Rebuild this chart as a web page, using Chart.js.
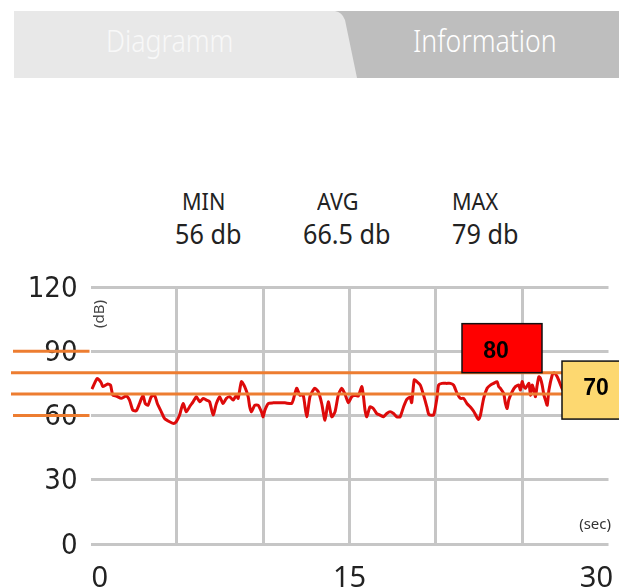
<!DOCTYPE html>
<html>
<head>
<meta charset="utf-8">
<script src="https://cdn.jsdelivr.net/npm/chart.js@4"></script>
<style>
  html, body { margin: 0; padding: 0; background: #fff; }
  #page { position: relative; width: 619px; height: 587px; overflow: hidden; font-family: "Noto Sans", "Open Sans", sans-serif; }
  .txt { position: absolute; white-space: nowrap; line-height: 1; color: #222; transform-origin: 0 0; }
  .tab { font-size: 31px; font-weight: 300; top: 25px; transform: scaleX(0.86); }
  .lbl { font-size: 24px; top: 189px; transform: scaleX(0.9); }
  .val { font-size: 28px; top: 219px; transform: scaleX(0.9); }
  svg, canvas { position: absolute; left: 0; top: 0; }
</style>
</head>
<body>
<div id="page">
  <svg width="619" height="80">
    <rect x="14" y="11" width="605" height="67" fill="#e8e8e8"/>
    <path d="M335 11 Q342 12 345 20 L357 78 L619 78 L619 11 Z" fill="#bebebe"/>
  </svg>
  <div class="txt tab" style="left:106px;color:#f8f8f8">Diagramm</div>
  <div class="txt tab" style="left:413px;color:#fff">Information</div>

  <div class="txt lbl" style="left:182px">MIN</div>
  <div class="txt lbl" style="left:317px">AVG</div>
  <div class="txt lbl" style="left:452px">MAX</div>
  <div class="txt val" style="left:175px">56 db</div>
  <div class="txt val" style="left:303px">66.5 db</div>
  <div class="txt val" style="left:452px">79 db</div>

  <canvas id="chart" width="619" height="587"></canvas>
</div>
<script>
// sound level readings (sec / dB)
const timeSec = [
  0.08, 0.39, 0.62, 0.71, 1.0, 1.16, 1.29, 1.49, 1.78, 2.07,
  2.26, 2.45, 2.65, 2.84, 3.04, 3.17, 3.33, 3.52, 3.71, 3.87,
  4.1, 4.29, 4.58, 4.83, 4.97, 5.16, 5.36, 5.55, 5.74, 5.94,
  6.13, 6.33, 6.52, 6.71, 6.9, 7.1, 7.29, 7.48, 7.67, 7.87,
  8.06, 8.26, 8.45, 8.55, 8.74, 8.93, 9.13, 9.22, 9.32, 9.51,
  9.71, 9.9, 10.0, 10.1, 10.29, 10.58, 10.87, 11.26, 11.65, 11.74,
  11.94, 12.13, 12.32, 12.52, 12.71, 12.9, 13.0, 13.19, 13.39, 13.58,
  13.77, 13.97, 14.16, 14.35, 14.55, 14.74, 14.93, 15.13, 15.32, 15.51,
  15.71, 15.8, 15.9, 16.0, 16.19, 16.38, 16.58, 16.77, 16.97, 17.16,
  17.35, 17.55, 17.74, 17.93, 18.13, 18.32, 18.51, 18.6, 18.75, 18.9,
  19.1, 19.29, 19.48, 19.6, 19.87, 20.06, 20.16, 20.35, 20.64, 20.84,
  21.03, 21.23, 21.42, 21.61, 21.81, 22.0, 22.19, 22.39, 22.48, 22.58,
  22.77, 22.97, 23.16, 23.35, 23.55, 23.64, 23.74, 23.93, 24.03, 24.13,
  24.22, 24.42, 24.61, 24.8, 24.9, 25.0, 25.1, 25.19, 25.39, 25.48,
  25.58, 25.68, 25.77, 25.87, 25.97, 26.06, 26.16, 26.26, 26.35, 26.45,
  26.55, 26.74, 26.84, 27.03, 27.23, 27.36, 27.6
];
const levelDb = [
  72.3, 77.3, 75.3, 73.5, 74.7, 74.2, 69.5, 69.1, 68, 69.1,
  67.2, 62.5, 62.2, 65.6, 69.5, 65.6, 64.8, 68.8, 69.5, 65.6,
  61.7, 58.6, 57.1, 56.3, 57.1, 60.2, 65.6, 61.7, 64.1, 66.4,
  68.8, 66.4, 68, 67.2, 66.4, 60.2, 65.6, 68.8, 65.6, 68,
  68.8, 67.2, 69.5, 68, 75.8, 73.5, 68.8, 64.1, 61.7, 64.8,
  64.8, 61.7, 59.4, 62.5, 65.6, 65.9, 65.9, 65.9, 65.6, 67.2,
  72.7, 69.5, 69.5, 59.4, 68.8, 71.9, 72.7, 71.1, 65.6, 57.8,
  66.4, 59.4, 61.7, 69.5, 72.7, 70, 66, 68.8, 69.5, 69.1,
  73.5, 69.5, 62.5, 59.4, 64.1, 63.3, 60.9, 60.2, 59.4, 60.9,
  61.7, 60.9, 59.4, 59.4, 64, 67.5, 68.5, 66, 76.6, 75.8,
  74.2, 69.5, 64, 60.5, 60.2, 68, 74.2, 75, 75, 75,
  74.2, 70.3, 68, 68, 65.5, 64, 62, 59, 58.2, 60,
  68, 72.7, 74.2, 75, 75.8, 73.5, 72.7, 70.3, 65.6, 63.3,
  67.2, 71.1, 73.5, 74.2, 71.9, 75.8, 73.5, 72.7, 75, 69.5,
  74.2, 71.9, 68.8, 74.2, 78.1, 77.3, 74.2, 69.5, 67.2, 64.8,
  71.9, 78.9, 80, 78.1, 74.2, 71.9, 73
];

const xTickLabels = [0, 15, 30];
const limitLines = [80, 70];      // full width lines
const markLines = [90, 60];       // short lines over the axis labels
const limitBoxes = ['80', '70'];

const orange = '#ed7d31';
const gridColor = '#c6c6c6';

const overlay = {
  id: 'overlay',
  afterDatasetsDraw(chart) {
    const { ctx, chartArea, scales: { x, y } } = chart;
    ctx.save();

    // orange limit lines
    ctx.strokeStyle = orange;
    ctx.lineWidth = 3;
    limitLines.forEach(v => {
      const py = y.getPixelForValue(v);
      ctx.beginPath(); ctx.moveTo(11, py); ctx.lineTo(chart.width, py); ctx.stroke();
    });
    markLines.forEach(v => {
      const py = y.getPixelForValue(v);
      ctx.beginPath(); ctx.moveTo(13, py); ctx.lineTo(chartArea.left - 1, py); ctx.stroke();
    });

    // units
    ctx.fillStyle = '#444';
    ctx.font = '15px "Noto Sans"';
    ctx.textAlign = 'center';
    ctx.textBaseline = 'middle';
    ctx.save();
    ctx.translate(chartArea.left + 9, chartArea.top + 27);
    ctx.rotate(-Math.PI / 2);
    ctx.fillText('(dB)', 0, 0);
    ctx.restore();
    ctx.fillStyle = '#333';
    ctx.font = '15px "Noto Sans"';
    ctx.textAlign = 'right';
    ctx.fillText('(sec)', chartArea.right + 2.5, chartArea.bottom - 19);

    // x tick labels, kept inside the page
    ctx.fillStyle = '#222';
    ctx.font = '29px "Noto Sans"';
    ctx.textAlign = 'left';
    ctx.textBaseline = 'alphabetic';
    xTickLabels.forEach(v => {
      const txt = String(v);
      const w = ctx.measureText(txt).width;
      let left = x.getPixelForValue(v) - w / 2;
      left = Math.max(chartArea.left + 1, Math.min(left, chart.width - 6 - w));
      ctx.fillText(txt, left, chartArea.bottom + 43);
    });

    // limit boxes
    ctx.lineWidth = 1.5;
    ctx.strokeStyle = '#111';
    let py = y.getPixelForValue(limitLines[0]);
    ctx.fillStyle = '#ff0000';
    ctx.fillRect(462, py - 49, 80, 49);
    ctx.strokeRect(462, py - 49, 80, 49);
    py = y.getPixelForValue(limitLines[1]);
    ctx.fillStyle = '#fdd870';
    ctx.fillRect(562, py - 33, 70, 58);
    ctx.strokeRect(562, py - 33, 70, 58);

    ctx.fillStyle = '#000';
    ctx.font = 'bold 23px "Liberation Sans"';
    ctx.textAlign = 'center';
    ctx.textBaseline = 'middle';
    ctx.fillText(limitBoxes[0], 496, y.getPixelForValue(limitLines[0]) - 21);
    ctx.fillText(limitBoxes[1], 596, y.getPixelForValue(limitLines[1]) - 5);

    ctx.restore();
  }
};

new Chart(document.getElementById('chart'), {
  type: 'line',
  data: {
    datasets: [{
      data: timeSec.map((t, i) => ({ x: t, y: levelDb[i] })),
      borderColor: '#dd0a0a',
      borderWidth: 3,
      pointRadius: 0,
      tension: 0.2,
      fill: false,
    }],
  },
  options: {
    responsive: false,
    animation: false,
    devicePixelRatio: 1,
    layout: { padding: { top: 287, right: 10.5, left: 0, bottom: 0 } },
    plugins: { legend: { display: false }, tooltip: { enabled: false } },
    scales: {
      x: {
        type: 'linear',
        min: 0,
        max: 30,
        ticks: { stepSize: 5, display: false },
        grid: {
          lineWidth: 3,
          drawTicks: false,
          color: (c) => (c.tick && (c.tick.value === 0 || c.tick.value === 30)) ? 'rgba(0,0,0,0)' : gridColor,
        },
        border: { display: false },
        afterFit: (s) => { s.height = 43; },
      },
      y: {
        min: 0,
        max: 120,
        ticks: {
          stepSize: 30,
          padding: 13,
          labelOffset: 2,
          color: '#222',
          font: { family: '"Liberation Sans Narrow", "DejaVu Sans Condensed", "Noto Sans"', size: 29 },
        },
        grid: { lineWidth: 3, drawTicks: false, color: gridColor },
        border: { display: false },
        afterFit: (s) => { s.width = 90.5; },
      },
    },
  },
  plugins: [overlay],
});
</script>
</body>
</html>
